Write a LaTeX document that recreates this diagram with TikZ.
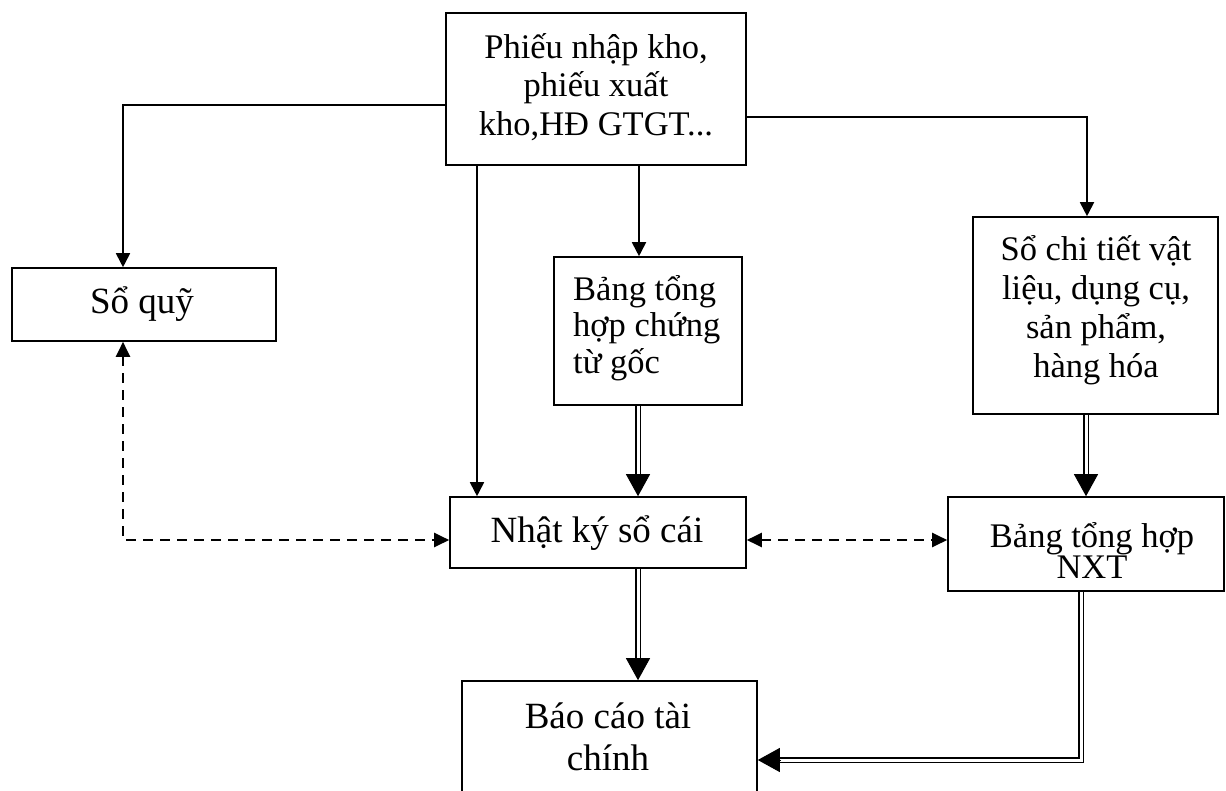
\documentclass[tikz,border=0pt]{standalone}
\usepackage{fontspec}
\setmainfont{Liberation Serif}
\usetikzlibrary{arrows.meta}
\begin{document}
\begin{tikzpicture}[x=1pt,y=-1pt,
  box/.style={draw, line width=1.6pt, inner sep=0pt, rectangle},
  txt/.style={inner sep=0pt, anchor=base, align=center, font=\fontsize{34.5}{38.5}\selectfont},
  big/.style={font=\fontsize{37}{42}\selectfont},
  arr/.style={line width=1.8pt, -{Triangle[length=14pt,width=14pt]}},
  dsh/.style={line width=2.2pt, dash pattern=on 10pt off 7pt,
    {Triangle[length=15pt,width=14pt]}-{Triangle[length=15pt,width=14pt]}},
  dbl/.style={double, line width=1.4pt, double distance=3pt},
  dhead/.style={line width=1pt, -{Triangle[length=22pt,width=24pt]}},
]
\useasboundingbox (0,0) rectangle (1226,790);
\clip (0,0) rectangle (1226,790);

% boxes
\node[box, minimum width=300pt, minimum height=152pt] (src) at (596,89) {};
\node[box, minimum width=264pt, minimum height=73pt] (quy) at (144,304.5) {};
\node[box, minimum width=188pt, minimum height=148pt] (bth) at (648,331) {};
\node[box, minimum width=245pt, minimum height=197pt] (sct) at (1095.5,315.5) {};
\node[box, minimum width=296pt, minimum height=71pt] (nk) at (598,532.5) {};
\node[box, minimum width=276pt, minimum height=94pt] (nxt) at (1086,544) {};
\node[box, minimum width=295pt, minimum height=160pt] (bc) at (609.5,761) {};

% texts (each placed by the baseline of its last line)
\node[txt] (tsrc) at (596,135) {Phiếu nhập kho,\\phiếu xuất\\kho,HĐ GTGT...};
\node[txt, big] (tquy) at (142,313) {Sổ quỹ};
\node[txt, anchor=base west, align=left, font=\fontsize{34.5}{36.5}\selectfont] (tbth) at (573,373) {Bảng tổng\\hợp chứng\\từ gốc};
\node[txt, font=\fontsize{34.5}{39}\selectfont] (tsct) at (1096,377) {Sổ chi tiết vật\\liệu, dụng cụ,\\sản phẩm,\\hàng hóa};
\node[txt, big] (tnk) at (597,542) {Nhật ký sổ cái};
\node[txt, font=\fontsize{34.5}{31.5}\selectfont] (tnxt) at (1092,578.5) {Bảng tổng hợp\\NXT};
\node[txt, big] (tbc) at (608,770) {Báo cáo tài\\chính};

% single arrows from the source documents
\coordinate (xa) at (123,105);
\draw[arr] (src.west |- xa) -- (xa) -- (xa |- quy.north);
\coordinate (xb) at (1087,117);
\draw[arr] (src.east |- xb) -- (xb) -- (xb |- sct.north);
\coordinate (xc) at (477,0);
\draw[arr] (xc |- src.south) -- (xc |- nk.north);
\coordinate (xd) at (639,0);
\draw[arr] (xd |- src.south) -- (xd |- bth.north);

% double arrows
\coordinate (xe) at (638,0);
\coordinate (e5) at (xe |- nk.north);
\draw[dbl] (xe |- bth.south) -- ([yshift=21pt]e5);
\draw[dhead] ([yshift=22pt]e5) -- (e5);

\coordinate (xf) at (1086,0);
\coordinate (e6) at (xf |- nxt.north);
\draw[dbl] (xf |- sct.south) -- ([yshift=21pt]e6);
\draw[dhead] ([yshift=22pt]e6) -- (e6);

\coordinate (e7) at (xe |- bc.north);
\draw[dbl] (xe |- nk.south) -- ([yshift=21pt]e7);
\draw[dhead] ([yshift=22pt]e7) -- (e7);

\coordinate (xh) at (1081,760);
\coordinate (e8) at (bc.east |- xh);
\draw[dbl] (xh |- nxt.south) -- (xh) -- ([xshift=21pt]e8);
\draw[dhead] ([xshift=22pt]e8) -- (e8);

% dashed two-way links
\coordinate (xq) at (123,540);
\draw[dsh] (xq |- quy.south) -- (xq) -- (nk.west |- xq);
\draw[dsh] (nk.east |- xq) -- (nxt.west |- xq);
\end{tikzpicture}
\end{document}
